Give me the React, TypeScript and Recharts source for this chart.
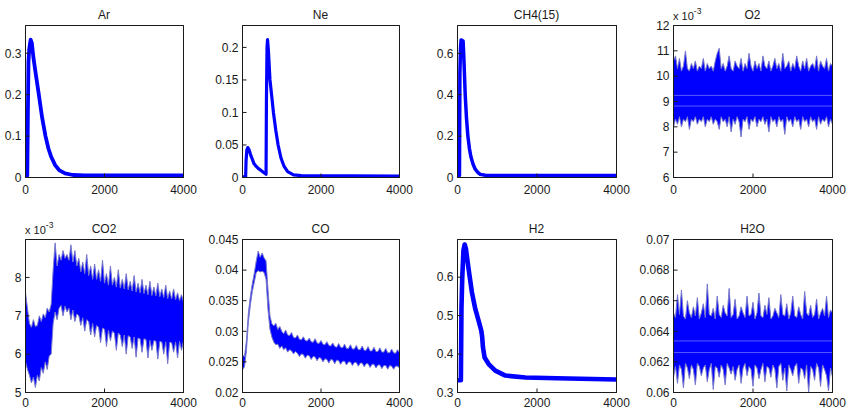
import React from 'react';
import { ComposedChart, Line, Area, XAxis, YAxis, ReferenceLine, ReferenceArea } from 'recharts';

const FONT = '"Liberation Sans", Arial, Helvetica, sans-serif';
const BLUE = '#0000ff';
const SPIKE = '#7878cc';
const AXIS = '#1a1a1a';
const TEXT = '#1a1a1a';

const X_TICKS = [0, 2000, 4000];

// ---- smooth (thick) series ----
const arX = [0, 45, 60, 75, 95, 130, 160, 200, 260, 338, 420, 506, 580, 650, 750, 850, 1000, 1200, 1500, 2000, 2500, 3000, 3500, 4000];
const arY = [0.004, 0.004, 0.15, 0.28, 0.31, 0.333, 0.325, 0.29, 0.25, 0.2, 0.145, 0.1, 0.07, 0.05, 0.03, 0.018, 0.01, 0.006, 0.005, 0.005, 0.005, 0.005, 0.005, 0.005];

const neX = [0, 80, 90, 110, 135, 165, 200, 250, 295, 350, 400, 465, 530, 600, 610, 625, 638, 660, 700, 750, 788, 850, 907, 980, 1060, 1150, 1300, 1500, 4000];
const neY = [0.001, 0.001, 0.025, 0.042, 0.046, 0.043, 0.036, 0.028, 0.021, 0.017, 0.014, 0.011, 0.008, 0.005, 0.12, 0.2, 0.212, 0.195, 0.15, 0.122, 0.1, 0.072, 0.05, 0.03, 0.017, 0.009, 0.004, 0.003, 0.002];

const ch4X = [0, 50, 60, 75, 90, 140, 155, 175, 194, 225, 261, 300, 337, 390, 446, 510, 572, 700, 1000, 4000];
const ch4Y = [0.01, 0.01, 0.5, 0.62, 0.665, 0.66, 0.6, 0.5, 0.4, 0.29, 0.2, 0.14, 0.1, 0.065, 0.04, 0.025, 0.015, 0.011, 0.01, 0.01];

const h2X = [0, 85, 100, 120, 150, 180, 210, 278, 362, 446, 530, 598, 620, 640, 682, 783, 951, 1204, 1709, 2500, 4000];
const h2Y = [0.332, 0.332, 0.52, 0.6, 0.67, 0.685, 0.675, 0.622, 0.561, 0.518, 0.487, 0.461, 0.445, 0.418, 0.391, 0.374, 0.357, 0.344, 0.339, 0.337, 0.334];

// ---- noisy series: upper / lower envelope, evenly sampled over 0..4000 ----
const o2Hi = [
  10.6, 10.8, 10.3, 10.7, 10.2, 10.4, 11.0, 10.3, 10.2, 10.5,
  10.3, 10.6, 10.2, 10.4, 10.3, 10.7, 10.2, 10.5, 10.3, 10.4,
  10.2, 10.6, 10.9, 11.1, 10.3, 10.5, 10.2, 10.4, 10.8, 10.3,
  10.2, 10.6, 10.4, 10.3, 10.7, 10.2, 10.5, 10.3, 10.9, 10.4,
  10.2, 10.6, 10.3, 10.5, 10.2, 10.8, 10.4, 10.3, 10.6, 10.2,
  10.4, 10.7, 10.3, 10.5, 10.2, 10.9, 10.3, 10.4, 10.6, 10.2,
  10.5, 10.3, 10.8, 10.4, 10.2, 10.6, 10.3, 10.7, 10.2, 10.4,
  10.5, 10.3, 10.8, 10.2, 10.6, 10.4, 10.3, 10.7, 10.2, 10.5,
  10.4,
];
const o2Lo = [
  8.0, 8.3, 8.1, 8.4, 8.0, 8.3, 8.2, 8.4, 7.9, 8.3,
  8.2, 8.4, 8.1, 8.3, 8.2, 8.4, 8.0, 8.3, 8.2, 8.4,
  8.1, 8.3, 8.2, 7.9, 8.4, 8.2, 8.3, 8.0, 8.4, 7.8,
  8.3, 8.1, 8.4, 8.2, 7.6, 8.3, 8.2, 8.4, 7.9, 8.3,
  8.2, 8.4, 8.0, 8.3, 8.2, 8.4, 8.1, 8.3, 7.8, 8.4,
  8.2, 8.3, 8.0, 8.4, 8.2, 8.3, 7.7, 8.4, 8.2, 8.3,
  8.0, 8.4, 8.2, 8.3, 7.9, 8.4, 8.2, 8.3, 8.0, 8.4,
  8.2, 8.3, 7.9, 8.4, 8.1, 8.3, 8.2, 8.4, 8.0, 8.3,
  8.1,
];

const h2oHi = [
  0.0652, 0.0649, 0.0664, 0.0651, 0.0667, 0.0650, 0.0648, 0.0660, 0.0652, 0.0649,
  0.0656, 0.0650, 0.0662, 0.0648, 0.0652, 0.0658, 0.0649, 0.0671, 0.0651, 0.0650,
  0.0655, 0.0648, 0.0663, 0.0651, 0.0649, 0.0657, 0.0652, 0.0650, 0.0668, 0.0649,
  0.0651, 0.0661, 0.0648, 0.0650, 0.0656, 0.0652, 0.0649, 0.0663, 0.0650, 0.0651,
  0.0659, 0.0648, 0.0652, 0.0665, 0.0650, 0.0649, 0.0657, 0.0651, 0.0662, 0.0648,
  0.0650, 0.0655, 0.0652, 0.0649, 0.0664, 0.0651, 0.0650, 0.0658, 0.0648, 0.0652,
  0.0663, 0.0650, 0.0649, 0.0656, 0.0651, 0.0648, 0.0666, 0.0652, 0.0650, 0.0657,
  0.0649, 0.0651, 0.0661, 0.0648, 0.0652, 0.0655, 0.0650, 0.0663, 0.0649, 0.0654,
  0.0652,
];
const h2oLo = [
  0.0610, 0.0617, 0.0606, 0.0618, 0.0615, 0.0603, 0.0619, 0.0616, 0.0609, 0.0618,
  0.0615, 0.0605, 0.0619, 0.0617, 0.0611, 0.0616, 0.0618, 0.0607, 0.0615, 0.0619,
  0.0602, 0.0617, 0.0616, 0.0610, 0.0618, 0.0615, 0.0605, 0.0619, 0.0616, 0.0612,
  0.0617, 0.0608, 0.0615, 0.0618, 0.0606, 0.0616, 0.0619, 0.0611, 0.0617, 0.0615,
  0.0604, 0.0618, 0.0616, 0.0609, 0.0615, 0.0619, 0.0607, 0.0617, 0.0616, 0.0610,
  0.0618, 0.0615, 0.0603, 0.0617, 0.0619, 0.0608, 0.0616, 0.0601, 0.0618, 0.0615,
  0.0611, 0.0617, 0.0619, 0.0606, 0.0616, 0.0615, 0.0609, 0.0618, 0.0600, 0.0617,
  0.0615, 0.0608, 0.0619, 0.0616, 0.0604, 0.0618, 0.0615, 0.0611, 0.0601, 0.0616,
  0.0610,
];

const co2Hi = [
  7.6, 7.2, 6.8, 6.7, 6.9, 6.72, 6.75, 7.0, 6.85, 7.05,
  6.95, 7.2, 7.1, 7.3, 8.2, 8.9, 8.3, 8.6, 8.45, 8.7,
  8.5, 8.6, 8.45, 8.85, 8.4, 8.7, 8.3, 8.5, 8.15, 8.4,
  8.1, 8.6, 8.05, 8.3, 7.95, 8.35, 7.95, 8.2, 7.9, 8.45,
  7.85, 8.1, 7.8, 8.3, 7.8, 8.0, 7.75, 8.2, 7.72, 7.95,
  7.7, 8.1, 7.68, 7.9, 7.65, 8.05, 7.62, 7.85, 7.6, 7.95,
  7.58, 7.8, 7.55, 7.9, 7.53, 7.75, 7.52, 7.85, 7.5, 7.7,
  7.48, 7.8, 7.45, 7.65, 7.44, 7.7, 7.42, 7.6, 7.4, 7.55,
  7.36,
];
const co2Lo = [
  5.8, 5.6, 5.45, 5.25, 5.4, 5.13, 5.45, 5.3, 5.65, 5.5,
  5.8, 5.6, 5.95, 6.0, 6.8, 7.1, 6.9, 7.2, 7.27, 7.0,
  7.25, 7.1, 7.2, 6.9, 7.15, 6.85, 7.05, 7.0, 6.75, 6.95,
  6.6, 6.9, 6.85, 6.5, 6.8, 6.45, 6.75, 6.7, 6.3, 6.68,
  6.65, 6.2, 6.62, 6.35, 6.6, 6.55, 6.1, 6.55, 6.5, 6.2,
  6.5, 6.0, 6.48, 6.45, 6.15, 6.45, 5.92, 6.42, 6.4, 6.05,
  6.4, 6.38, 5.9, 6.36, 6.1, 6.35, 6.34, 5.87, 6.33, 6.32,
  6.0, 6.32, 5.75, 6.31, 6.3, 6.05, 6.32, 5.9, 6.33, 6.1,
  6.35,
];

const coHi = [
  0.0262, 0.0258, 0.0285, 0.0330, 0.0357, 0.0378, 0.0395, 0.0415, 0.0431, 0.0421,
  0.0428, 0.0420, 0.0415, 0.0368, 0.0325, 0.0312, 0.0309, 0.0313, 0.0303, 0.0308,
  0.0300, 0.0296, 0.0302, 0.0294, 0.0293, 0.0298, 0.0290, 0.0289, 0.0294, 0.0287,
  0.0286, 0.0291, 0.0285, 0.0284, 0.0289, 0.0283, 0.0282, 0.0288, 0.0281, 0.0280,
  0.0285, 0.0279, 0.0278, 0.0283, 0.0277, 0.0276, 0.0281, 0.0275, 0.0274, 0.0280,
  0.0274, 0.0273, 0.0279, 0.0272, 0.0272, 0.0278, 0.0271, 0.0271, 0.0277, 0.0270,
  0.0270, 0.0276, 0.0269, 0.0269, 0.0275, 0.0268, 0.0268, 0.0274, 0.0267, 0.0267,
  0.0273, 0.0266, 0.0266, 0.0272, 0.0265, 0.0265, 0.0271, 0.0265, 0.0264, 0.0270,
  0.0265,
];
const coLo = [
  0.0237, 0.0242, 0.0268, 0.0315, 0.0343, 0.0365, 0.0380, 0.0396, 0.0399, 0.0397,
  0.0398, 0.0396, 0.0385, 0.0335, 0.0303, 0.0290, 0.0282, 0.0278, 0.0279, 0.0272,
  0.0276, 0.0270, 0.0273, 0.0266, 0.0270, 0.0268, 0.0263, 0.0267, 0.0264, 0.0259,
  0.0263, 0.0262, 0.0256, 0.0261, 0.0260, 0.0254, 0.0259, 0.0258, 0.0252, 0.0257,
  0.0256, 0.0250, 0.0255, 0.0254, 0.0248, 0.0254, 0.0253, 0.0247, 0.0253, 0.0252,
  0.0246, 0.0251, 0.0251, 0.0245, 0.0250, 0.0250, 0.0244, 0.0249, 0.0249, 0.0243,
  0.0248, 0.0248, 0.0242, 0.0247, 0.0247, 0.0241, 0.0246, 0.0246, 0.0240, 0.0245,
  0.0245, 0.0239, 0.0244, 0.0244, 0.0238, 0.0244, 0.0243, 0.0238, 0.0243, 0.0243,
  0.0240,
];

// ---- axis ticks ----
const arTicks = [0, 0.1, 0.2, 0.3];
const neTicks = [0, 0.05, 0.1, 0.15, 0.2];
const ch4Ticks = [0, 0.2, 0.4, 0.6];
const o2Ticks = [6, 7, 8, 9, 10, 11, 12];
const co2Ticks = [5, 6, 7, 8];
const coTicks = [0.02, 0.025, 0.03, 0.035, 0.04, 0.045];
const h2Ticks = [0.3, 0.4, 0.5, 0.6];
const h2oTicks = [0.06, 0.062, 0.064, 0.066, 0.068, 0.07];

const toXY = (xs: number[], ys: number[]) => xs.map((x, i) => ({ x, y: ys[i] }));
const toBand = (hi: number[], lo: number[]) =>
  hi.map((h, i) => ({ x: (i * 4000) / (hi.length - 1), band: [lo[i], h], lo: lo[i] }));

type PanelProps = {
  x0: number; y0: number; x1: number; y1: number;
  data: any[]; kind: 'line' | 'band';
  yDomain: [number, number]; yTicks: number[];
  xTickMargin: number; refLines?: number[]; lineWidth?: number;
};

const tickStyle = { fontSize: 12, fill: TEXT, fontFamily: FONT };

function Panel(p: PanelProps) {
  const ML = 50, MR = 24, MT = 9, MB = 25;
  const w = p.x1 - p.x0;
  const h = p.y1 - p.y0;
  const hiddenKey = p.kind === 'line' ? 'y' : 'lo';
  return (
    <div style={{ position: 'absolute', left: p.x0 - ML, top: p.y0 - MT - 1 }}>
      <ComposedChart width={ML + w + 1 + MR} height={MT + 1 + h + MB} data={p.data}
        margin={{ top: MT, right: MR, bottom: 0, left: 0 }}>
        <XAxis xAxisId="b" dataKey="x" type="number" domain={[0, 4000]} ticks={X_TICKS} interval={0}
          height={MB} tickSize={-4} tickMargin={p.xTickMargin} stroke={AXIS} tick={tickStyle} allowDataOverflow />
        <XAxis xAxisId="t" orientation="top" dataKey="x" type="number" domain={[0, 4000]} ticks={X_TICKS} interval={0}
          height={1} tickSize={-4} tick={false} stroke={AXIS} allowDataOverflow />
        <YAxis yAxisId="l" type="number" domain={p.yDomain} ticks={p.yTicks} interval={0} width={ML}
          tickSize={-4} tickMargin={8} stroke={AXIS} tick={tickStyle} allowDataOverflow />
        <YAxis yAxisId="r" orientation="right" type="number" domain={p.yDomain} ticks={p.yTicks} interval={0} width={1}
          tickSize={-4} tick={false} stroke={AXIS} allowDataOverflow />
        {p.kind === 'line' ? (
          <Line xAxisId="b" yAxisId="l" dataKey="y" type="linear" stroke={BLUE} strokeWidth={p.lineWidth || 3.5}
            strokeLinejoin="round" dot={false} activeDot={false} isAnimationActive={false} />
        ) : (
          <Area xAxisId="b" yAxisId="l" dataKey="band" type="linear" fill={BLUE} fillOpacity={1}
            stroke={SPIKE} strokeWidth={1} dot={false} activeDot={false} isAnimationActive={false} />
        )}
        {(p.refLines || []).map((v) => (
          <ReferenceLine key={v} xAxisId="b" yAxisId="l" y={v} stroke="#5a5aff" strokeWidth={1} />
        ))}
        <ReferenceArea xAxisId="b" yAxisId="l" x1={0} x2={4000} y1={p.yDomain[0]} y2={p.yDomain[1]}
          fill="none" fillOpacity={0} stroke={AXIS} strokeWidth={1} strokeOpacity={1} ifOverflow="visible" />
        <Line xAxisId="t" yAxisId="r" dataKey={hiddenKey} stroke="none" dot={false} activeDot={false}
          isAnimationActive={false} />
      </ComposedChart>
    </div>
  );
}

const COLS = [[25, 183], [242, 399], [457, 616], [673, 832]];
const ROW1: [number, number] = [25, 177];
const ROW2: [number, number] = [239, 392];

export default function App() {
  const titles1 = ['Ar', 'Ne', 'CH4(15)', 'O2'];
  const titles2 = ['CO2', 'CO', 'H2', 'H2O'];
  return (
    <div style={{ position: 'absolute', left: 0, top: 0, width: 850, height: 411, overflow: 'hidden', background: '#fff' }}>
      <div style={{ position: 'absolute', left: 0, top: 0, width: 850, height: 411, transform: 'translate(0.5px, 0.5px)' }}>
        <Panel x0={COLS[0][0]} x1={COLS[0][1]} y0={ROW1[0]} y1={ROW1[1]} data={toXY(arX, arY)} kind="line"
          yDomain={[0, 0.367]} yTicks={arTicks} xTickMargin={12} lineWidth={3.8} />
        <Panel x0={COLS[1][0]} x1={COLS[1][1]} y0={ROW1[0]} y1={ROW1[1]} data={toXY(neX, neY)} kind="line"
          yDomain={[0, 0.2337]} yTicks={neTicks} xTickMargin={12} lineWidth={3.2} />
        <Panel x0={COLS[2][0]} x1={COLS[2][1]} y0={ROW1[0]} y1={ROW1[1]} data={toXY(ch4X, ch4Y)} kind="line"
          yDomain={[0, 0.7347]} yTicks={ch4Ticks} xTickMargin={12} lineWidth={3.5} />
        <Panel x0={COLS[3][0]} x1={COLS[3][1]} y0={ROW1[0]} y1={ROW1[1]} data={toBand(o2Hi, o2Lo)} kind="band"
          yDomain={[6, 12]} yTicks={o2Ticks} xTickMargin={12} refLines={[9.24, 8.82]} />
        <Panel x0={COLS[0][0]} x1={COLS[0][1]} y0={ROW2[0]} y1={ROW2[1]} data={toBand(co2Hi, co2Lo)} kind="band"
          yDomain={[5, 8.99]} yTicks={co2Ticks} xTickMargin={10} />
        <Panel x0={COLS[1][0]} x1={COLS[1][1]} y0={ROW2[0]} y1={ROW2[1]} data={toBand(coHi, coLo)} kind="band"
          yDomain={[0.02, 0.045]} yTicks={coTicks} xTickMargin={10} />
        <Panel x0={COLS[2][0]} x1={COLS[2][1]} y0={ROW2[0]} y1={ROW2[1]} data={toXY(h2X, h2Y)} kind="line"
          yDomain={[0.3, 0.698]} yTicks={h2Ticks} xTickMargin={10} lineWidth={4.6} />
        <Panel x0={COLS[3][0]} x1={COLS[3][1]} y0={ROW2[0]} y1={ROW2[1]} data={toBand(h2oHi, h2oLo)} kind="band"
          yDomain={[0.06, 0.07]} yTicks={h2oTicks} xTickMargin={10} refLines={[0.06337, 0.06261]} />
      </div>
      <svg width={850} height={411} style={{ position: 'absolute', left: 0, top: 0, pointerEvents: 'none' }}
        fontFamily={FONT} fill={TEXT}>
        {titles1.map((t, i) => (
          <text key={t} x={(COLS[i][0] + COLS[i][1]) / 2} y={18.5} fontSize={12} textAnchor="middle">{t}</text>
        ))}
        {titles2.map((t, i) => (
          <text key={t} x={(COLS[i][0] + COLS[i][1]) / 2} y={232.5} fontSize={12} textAnchor="middle">{t}</text>
        ))}
        <text x={673} y={20} fontSize={11}>x 10<tspan dy={-6.5} fontSize={8.5}>-3</tspan></text>
        <text x={25} y={234} fontSize={11}>x 10<tspan dy={-6.5} fontSize={8.5}>-3</tspan></text>
      </svg>
    </div>
  );
}
